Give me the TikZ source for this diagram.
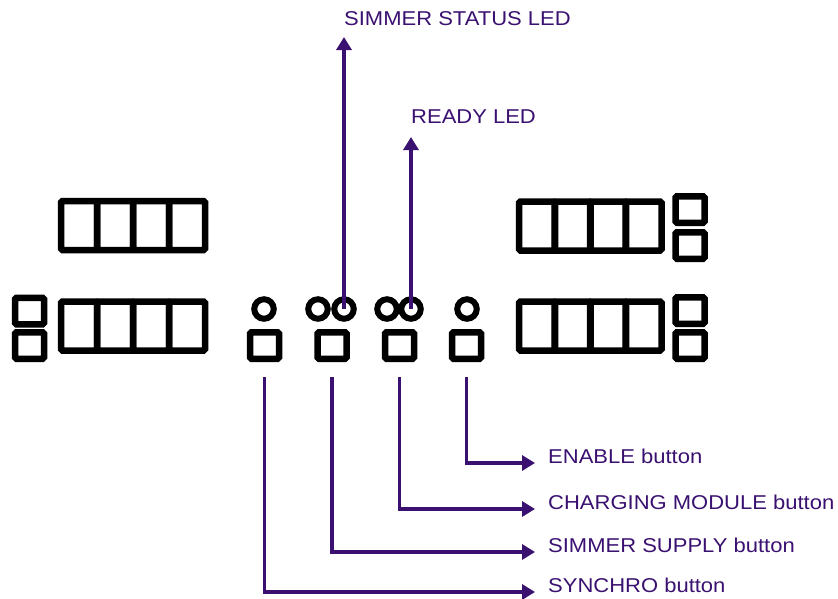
\documentclass[tikz,border=0pt]{standalone}
\usepackage{fontspec}
\setmainfont{Liberation Sans}[FakeStretch=1.1]
\usepackage{tikz}
\usetikzlibrary{arrows.meta, positioning}

\definecolor{callout}{RGB}{58,16,112}

\begin{document}
\begin{tikzpicture}[
  x=1pt, y=-1pt,
  cell/.style={rectangle, draw, line width=6.5pt, rounded corners=1.5pt,
               minimum width=36pt, minimum height=49pt, inner sep=0pt, outer sep=0pt},
  key/.style={rectangle, draw, line width=6.5pt, rounded corners=1.5pt,
              minimum width=29pt, minimum height=26.5pt, inner sep=0pt, outer sep=0pt},
  led/.style={circle, draw, line width=6pt, minimum size=19.5pt, inner sep=0pt, outer sep=0pt},
  lbl/.style={inner sep=0pt, text=callout, font=\fontsize{20}{24}\selectfont},
  arr/.style={-{Triangle[length=13pt,width=15pt]}, draw=callout, line width=3.2pt}
]
  \useasboundingbox (0,0) rectangle (838,598);

  % seven-segment windows
  \foreach \i in {0,...,3} {
    \node[cell] (tl\i) at (79+36*\i,225.5) {};
    \node[cell] (bl\i) at (79+36*\i,326) {};
    \node[cell] (tr\i) at (537+35.5*\i,226) {};
    \node[cell] (br\i) at (537+35.5*\i,326) {};
  }

  % side keys
  \node[key] (lk1) at (29.5,311) {};
  \node[key] (lk2) at (29.5,345.5) {};
  \node[key] (rk1) at (690,209.5) {};
  \node[key] (rk2) at (690,245.5) {};
  \node[key] (rk3) at (690,310.5) {};
  \node[key] (rk4) at (690,345.5) {};

  % buttons and leds
  \node[key] (sync) at (264.5,345.5) {};
  \node[key] (simsup) at (332,345.5) {};
  \node[key] (charge) at (399.5,345.5) {};
  \node[key] (enable) at (466.5,345.5) {};
  \node[led] (l1) at (264,309) {};
  \node[led] (l2) at (318,309) {};
  \node[led] (simled) at (344,309) {};
  \node[led] (l4) at (387,309) {};
  \node[led] (rdyled) at (411,309) {};
  \node[led] (l6) at (467,309) {};

  % labels
  \node[lbl, anchor=base west] (simlbl) at (344,25) {SIMMER STATUS LED};
  \node[lbl, anchor=base west] (rdylbl) at (411,123) {READY LED};
  \node[lbl, anchor=base west] (enlbl) at (548,463) {ENABLE button};
  \node[lbl, anchor=base west] (chlbl) at (548,509) {CHARGING MODULE button};
  \node[lbl, anchor=base west] (sslbl) at (548,552) {SIMMER SUPPLY button};
  \node[lbl, anchor=base west] (sylbl) at (548,592) {SYNCHRO button};

  \draw[arr, shorten >=12pt] (simled.center) -- (simled |- simlbl.base);
  \draw[arr, shorten >=14pt] (rdyled.center) -- (rdyled |- rdylbl.base);
  \draw[arr, shorten <=18pt, shorten >=13pt] (enable.south) |- (enlbl.base west);
  \draw[arr, shorten <=18pt, shorten >=13pt] (charge.south) |- (chlbl.base west);
  \draw[arr, shorten <=18pt, shorten >=13pt] (simsup.south) |- (sslbl.base west);
  \draw[arr, shorten <=18pt, shorten >=13pt] (sync.south) |- (sylbl.base west);
\end{tikzpicture}
\end{document}
